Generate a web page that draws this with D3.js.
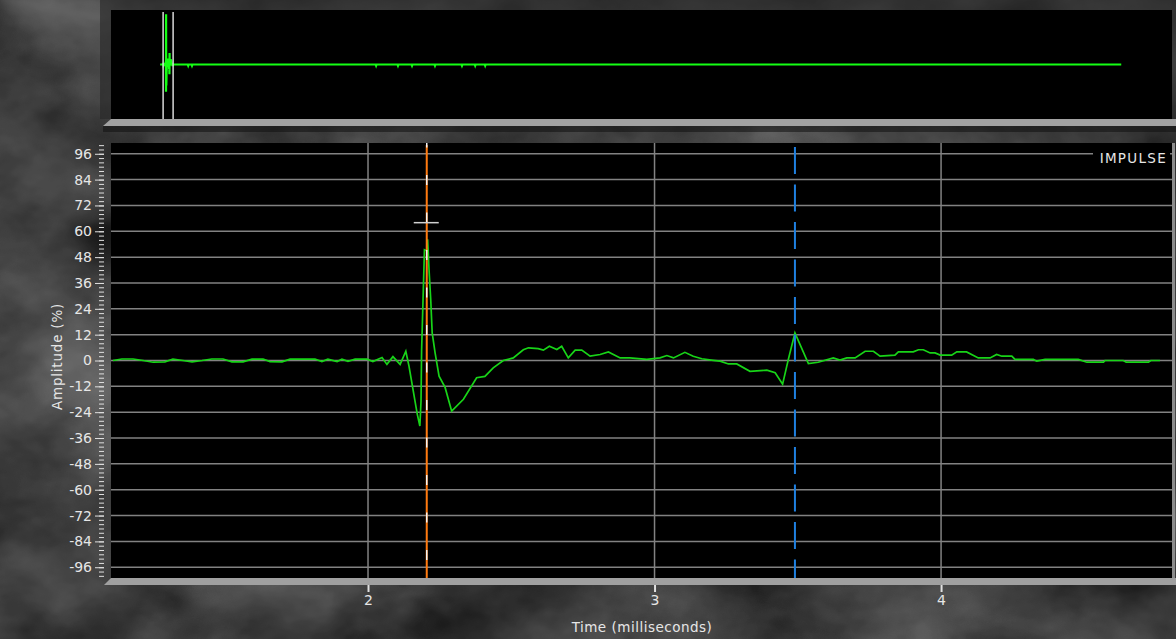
<!DOCTYPE html>
<html>
<head>
<meta charset="utf-8">
<script src="https://cdnjs.cloudflare.com/ajax/libs/d3/7.8.5/d3.min.js"></script>
<style>
  body { margin: 0; background: #3a3a3a; overflow: hidden; }
  text { font-family: "DejaVu Sans", Verdana, sans-serif; fill: #e6e6e6; }
</style>
</head>
<body>
<div id="chart"></div>
<script>
// impulse trace (time in ms, amplitude in %)
var timeMs = [1.110, 1.141, 1.180, 1.215, 1.250, 1.291, 1.319, 1.354, 1.386, 1.421,
  1.455, 1.494, 1.525, 1.564, 1.595, 1.634, 1.658, 1.700, 1.728, 1.770,
  1.815, 1.839, 1.860, 1.892, 1.909, 1.930, 1.955, 1.997, 2.017, 2.049,
  2.066, 2.087, 2.112, 2.132, 2.143, 2.172, 2.181, 2.185, 2.187, 2.192,
  2.197, 2.205, 2.208, 2.213, 2.219, 2.224, 2.234, 2.248, 2.269, 2.292,
  2.333, 2.379, 2.408, 2.437, 2.472, 2.507, 2.542, 2.560, 2.594, 2.612,
  2.633, 2.659, 2.676, 2.699, 2.723, 2.746, 2.775, 2.810, 2.839, 2.880,
  2.914, 2.973, 3.019, 3.043, 3.066, 3.106, 3.135, 3.165, 3.205, 3.229,
  3.258, 3.287, 3.333, 3.392, 3.421, 3.447, 3.467, 3.490, 3.537, 3.571,
  3.624, 3.647, 3.671, 3.700, 3.735, 3.764, 3.787, 3.839, 3.851, 3.903,
  3.921, 3.938, 3.962, 3.979, 3.997, 4.037, 4.055, 4.089, 4.130, 4.171,
  4.194, 4.212, 4.247, 4.258, 4.322, 4.334, 4.363, 4.479, 4.509, 4.567,
  4.572, 4.636, 4.646, 4.724, 4.732, 4.764];
var ampPct = [0, 0.7, 0.7, 0, -0.8, -0.6, 0.6, 0, -0.6, 0,
  0.7, 0.7, -0.6, -0.6, 0.6, 0.7, -0.5, -0.6, 0.6, 0.6,
  0.7, -0.5, 0.6, -0.5, 0.6, -0.4, 0.6, 0.6, -0.5, 1.4,
  -1.8, 1.8, -1.8, 4.3, -2.6, -25, -30.4, -18.8, 4.3, 28,
  51.4, 51, 56.3, 42, 28, 12.8, 3.7, -7.3, -12.5, -23.5,
  -18, -8, -7.4, -3.4, 0, 1.2, 5, 5.9, 5.5, 4.8,
  6.6, 5.1, 6.6, 1.2, 4.8, 4.8, 2, 2.8, 4, 1.2,
  1.2, 0.5, 1.2, 2.3, 1.2, 3.8, 2, 0.8, 0.1, -0.3,
  -1.6, -1.6, -5, -4.5, -5.7, -11, 0.5, 12.8, -1.4, -0.8,
  1.2, 0.2, 1.2, 1.2, 4.3, 4.3, 2, 2.5, 4, 4,
  5, 5, 3.5, 3.5, 2.5, 2.5, 4, 4, 1.2, 1.2,
  2.8, 2, 2, 0.5, 0.5, -0.3, 0.5, 0.5, -0.8, -0.8,
  0, 0, -0.8, -0.8, 0, 0];

// rest of the recording, seen only in the overview strip: start, end, small blips
var recordStartMs = 0;
var recordEndMs = 356;
var blipMs = [10.4, 11.8, 80.0, 88.1, 93.3, 101.8, 111.8, 116.7, 120.4];
var blipAmp = [-1.2, -1.2, -1.2, -1.2, -1.2, -1.2, -1.2, -1.2, -1.2];

var yTicks = d3.range(-96, 97, 12);
var yMinorTicks = d3.range(-100, 101, 2);
var xTicks = [2, 3, 4];

var orangeCursorMs = 2.205;
var blueCursorMs = 3.49;
var markerAmp = 64;
var viewMs = [1.103, 4.806];

var W = 1176, H = 639;
var plot = {left: 111, right: 1172, top: 143, bottom: 578};
var ov = {left: 111, right: 1172, top: 10, bottom: 119};

var svg = d3.select('#chart').append('svg')
  .attr('width', W).attr('height', H);

var defs = svg.append('defs');
var f = defs.append('filter').attr('id', 'marble')
  .attr('color-interpolation-filters', 'sRGB')
  .attr('x', 0).attr('y', 0).attr('width', '100%').attr('height', '100%');
f.append('feTurbulence').attr('type', 'fractalNoise')
  .attr('baseFrequency', '0.006 0.009').attr('numOctaves', 5).attr('seed', 7);
f.append('feColorMatrix').attr('type', 'matrix')
  .attr('values', '0.33 0.33 0.33 0 0  0.33 0.33 0.33 0 0  0.33 0.33 0.33 0 0  0 0 0 0 1');
var ct = f.append('feComponentTransfer');
['feFuncR', 'feFuncG', 'feFuncB'].forEach(function(n) {
  ct.append(n).attr('type', 'linear').attr('slope', 0.85).attr('intercept', -0.17);
});

defs.append('clipPath').attr('id', 'plotClip').append('rect')
  .attr('x', plot.left).attr('y', plot.top)
  .attr('width', plot.right - plot.left).attr('height', plot.bottom - plot.top);
defs.append('clipPath').attr('id', 'ovClip').append('rect')
  .attr('x', ov.left).attr('y', ov.top)
  .attr('width', ov.right - ov.left).attr('height', ov.bottom - ov.top);

// textured background
svg.append('rect').attr('width', W).attr('height', H).attr('filter', 'url(#marble)');

// ---------- overview strip ----------
svg.append('rect').attr('x', 100).attr('y', 0).attr('width', W - 100).attr('height', ov.bottom)
  .attr('fill', '#262626').attr('opacity', 0.6);
svg.append('rect').attr('x', ov.left).attr('y', ov.top)
  .attr('width', ov.right - ov.left).attr('height', ov.bottom - ov.top).attr('fill', '#000');
svg.append('polygon')
  .attr('points', [[103, 126], [111, ov.bottom], [W, ov.bottom], [W, 126]].join(' '))
  .attr('fill', '#a2a2a2');
svg.append('rect').attr('x', 103).attr('y', 126).attr('width', W - 103).attr('height', 6)
  .attr('fill', '#111').attr('opacity', 0.55);

var xo = d3.scaleLinear().domain([-18.2, 374.8]).range([ov.left, ov.right]);
var yo = d3.scaleLinear().domain([-61, 61]).range([ov.bottom, ov.top]);

var ovData = [[recordStartMs, 0]];
timeMs.forEach(function(t, i) { ovData.push([t, ampPct[i]]); });
blipMs.forEach(function(t, i) {
  ovData.push([t - 0.15, 0], [t, blipAmp[i]], [t + 0.15, 0]);
});
ovData.push([recordEndMs, 0]);
ovData.sort(function(a, b) { return a[0] - b[0]; });

svg.append('path')
  .datum(ovData)
  .attr('clip-path', 'url(#ovClip)')
  .attr('fill', 'none')
  .attr('stroke', '#14ff14')
  .attr('stroke-width', 2.2)
  .attr('d', d3.line().x(function(d) { return xo(d[0]); }).y(function(d) { return yo(d[1]); }));

svg.selectAll('.sel')
  .data(viewMs)
  .enter().append('line')
  .attr('x1', function(d) { return xo(d); }).attr('x2', function(d) { return xo(d); })
  .attr('y1', 12).attr('y2', ov.bottom)
  .attr('stroke', '#d8d8d8').attr('stroke-width', 1.5);

// ---------- main plot ----------
var x = d3.scaleLinear().domain(viewMs).range([plot.left, plot.right]);
var y = d3.scaleLinear().domain([-101, 101]).range([plot.bottom, plot.top]);

svg.append('rect').attr('x', plot.left).attr('y', plot.top)
  .attr('width', plot.right - plot.left).attr('height', plot.bottom - plot.top).attr('fill', '#000');

var grid = svg.append('g').attr('stroke', '#828282').attr('stroke-width', 1.5);
grid.selectAll('.hg').data(yTicks).enter().append('line')
  .attr('x1', plot.left).attr('x2', plot.right)
  .attr('y1', function(d) { return y(d); }).attr('y2', function(d) { return y(d); });
grid.selectAll('.vg').data(xTicks).enter().append('line')
  .attr('y1', plot.top).attr('y2', plot.bottom)
  .attr('x1', function(d) { return x(d); }).attr('x2', function(d) { return x(d); });

// label box
svg.append('rect').attr('x', 1093).attr('y', 146).attr('width', 77).attr('height', 18).attr('fill', '#000');
svg.append('text').attr('x', 1167).attr('y', 163).attr('text-anchor', 'end')
  .style('font-size', '13.5px').style('letter-spacing', '1.3px').text('IMPULSE');

// trace
svg.append('path')
  .datum(timeMs.map(function(t, i) { return [t, ampPct[i]]; }))
  .attr('clip-path', 'url(#plotClip)')
  .attr('fill', 'none')
  .attr('stroke', '#18d418')
  .attr('stroke-width', 1.7)
  .attr('d', d3.line().x(function(d) { return x(d[0]); }).y(function(d) { return y(d[1]); }));

// cursors
svg.append('line')
  .attr('x1', x(orangeCursorMs)).attr('x2', x(orangeCursorMs))
  .attr('y1', plot.top + 2).attr('y2', plot.bottom)
  .attr('stroke', '#ff7a10').attr('stroke-width', 2);
svg.append('line')
  .attr('x1', x(orangeCursorMs)).attr('x2', x(orangeCursorMs))
  .attr('y1', plot.top).attr('y2', plot.bottom)
  .attr('stroke', '#f4f4f4').attr('stroke-width', 1.5)
  .attr('stroke-dasharray', '10,27.5').attr('stroke-dashoffset', 5.5);
svg.append('line')
  .attr('x1', x(blueCursorMs)).attr('x2', x(blueCursorMs))
  .attr('y1', plot.top).attr('y2', plot.bottom)
  .attr('stroke', '#1f80e0').attr('stroke-width', 2)
  .attr('stroke-dasharray', '27,10.5').attr('stroke-dashoffset', 33.5);

// peak marker
svg.append('line')
  .attr('x1', x(orangeCursorMs) - 13).attr('x2', x(orangeCursorMs) + 12)
  .attr('y1', y(markerAmp)).attr('y2', y(markerAmp))
  .attr('stroke', '#d0d0d0').attr('stroke-width', 1.5);

// frame
svg.append('rect').attr('x', plot.right).attr('y', plot.top)
  .attr('width', 3).attr('height', plot.bottom - plot.top).attr('fill', '#8c8c8c');
svg.append('polygon')
  .attr('points', [[104, 585], [111, plot.bottom], [W, plot.bottom], [W, 585]].join(' '))
  .attr('fill', '#a0a0a0');

// axes
var yMinor = svg.append('g').attr('transform', 'translate(104,0)')
  .call(d3.axisLeft(y).tickValues(yMinorTicks).tickSize(5).tickFormat(''));
var yAxis = svg.append('g').attr('transform', 'translate(104,0)')
  .call(d3.axisLeft(y).tickValues(yTicks).tickSize(9).tickPadding(3)
    .tickFormat(function(d) { return String(d); }));
var xAxis = svg.append('g').attr('transform', 'translate(0,585)')
  .call(d3.axisBottom(x).tickValues(xTicks).tickSize(7).tickPadding(3)
    .tickFormat(function(d) { return String(d); }));

[yMinor, yAxis, xAxis].forEach(function(g) {
  g.attr('font-size', null).attr('font-family', null);
  g.select('.domain').remove();
  g.selectAll('line').attr('stroke', '#e0e0e0').attr('stroke-width', 1);
  g.selectAll('text').attr('fill', '#ededed').style('font-size', '14px');
});
xAxis.selectAll('line').attr('stroke-width', 2);

// axis titles
svg.append('text')
  .attr('x', 642).attr('y', 632)
  .attr('text-anchor', 'middle')
  .style('font-size', '13.5px').style('letter-spacing', '0.5px')
  .text('Time (milliseconds)');
svg.append('text')
  .attr('transform', 'translate(62,' + (y(0) - 4) + ')rotate(-90)')
  .attr('text-anchor', 'middle')
  .style('font-size', '13.5px').style('letter-spacing', '0.8px')
  .text('Amplitude (%)');
</script>
</body>
</html>
